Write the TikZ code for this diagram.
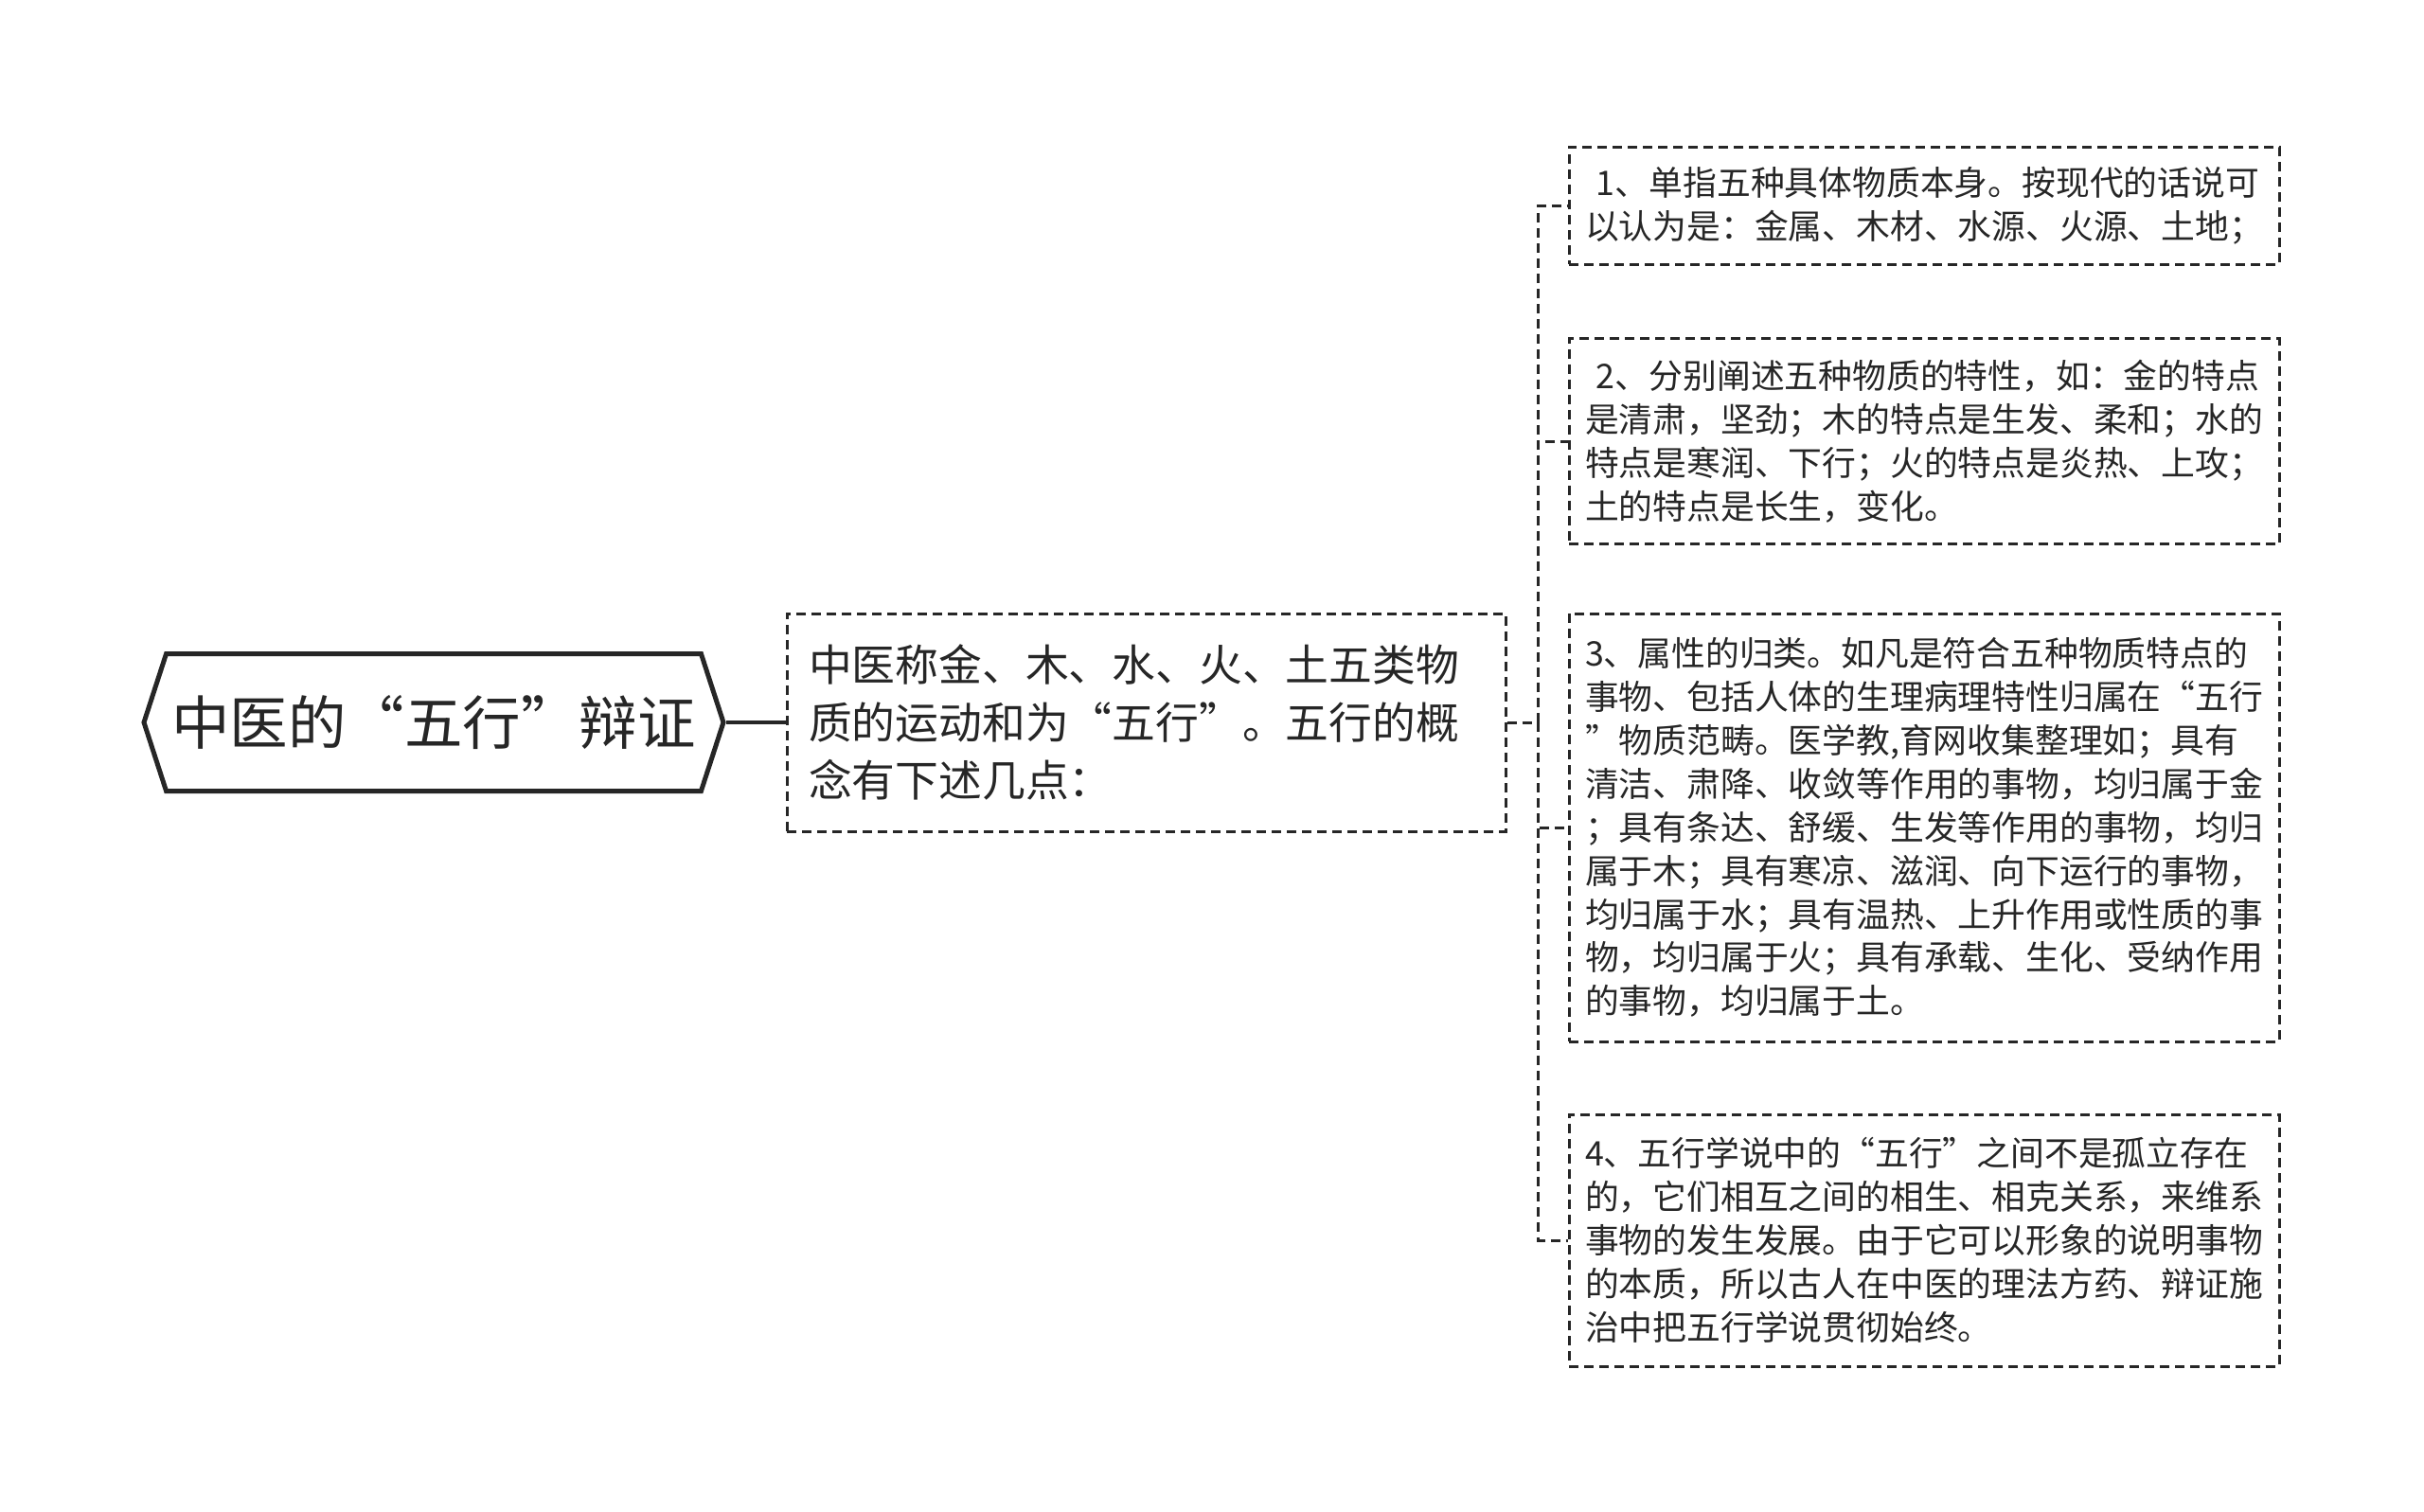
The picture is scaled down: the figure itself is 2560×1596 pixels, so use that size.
\documentclass[tikz,border=0pt]{standalone}
\usepackage{fontspec}
\setmainfont{Noto Sans CJK SC}
\usetikzlibrary{shapes.symbols}

\tikzset{
  rootbox/.style={draw=black!85, line width=5pt, shape=signal, signal to=west and east,
    signal pointer angle=144, minimum width=612pt, minimum height=145pt, inner sep=0pt,
    font=\fontsize{61.5}{72}\selectfont, text=black!85},
  topicbox/.style={draw=black!85, line width=3pt, dash pattern=on 10pt off 6pt,
    text width=713pt, inner xsep=23pt, minimum height=230pt, align=left,
    font=\fontsize{45.8}{61.2}\selectfont, text=black!85},
  leafbox/.style={draw=black!85, line width=3pt, dash pattern=on 10pt off 6pt,
    text width=716pt, inner xsep=17pt, align=left,
    font=\fontsize{35.8}{45.9}\selectfont, text=black!85},
  stem/.style={draw=black!85, line width=3.5pt},
  link/.style={draw=black!85, line width=3pt, dash pattern=on 10pt off 6pt}
}

\begin{document}
\begin{tikzpicture}[x=1pt,y=1pt,yscale=-1,xscale=1]
\useasboundingbox (0,0) rectangle (2560,1596);

% Root
\node[rootbox] (root) at (458,763) {中医的“五行”辩证};
% Topic
\node[topicbox] (topic) at (1210.5,763) {中医称金、木、水、火、土五类物\\质的运动和为“五行”。五行的概\\念有下述几点：};

% Leaves
\node[leafbox, minimum height=124pt] (one) at (2032,217) {~1、单指五种具体物质本身。按现代的话说可\\以认为是：金属、木材、水源、火源、土地；};
\node[leafbox, minimum height=217pt] (two) at (2032,466) {~2、分别阐述五种物质的特性，如：金的特点\\是清肃，坚劲；木的特点是生发、柔和；水的\\特点是寒润、下行；火的特点是炎热、上攻；\\土的特点是长生，变化。};
\node[leafbox, minimum height=452pt] (three) at (2032,874) {3、属性的归类。如凡是符合五种物质特点的\\事物、包括人体的生理病理特性归属在“五行\\”物质范畴。医学教,育网收集整理如；具有\\清洁、肃降、收敛等作用的事物，均归属于金\\；具有条达、舒缓、生发等作用的事物，均归\\属于木；具有寒凉、滋润、向下运行的事物，\\均归属于水；具有温热、上升作用或性质的事\\物，均归属于火；具有承载、生化、受纳作用\\的事物，均归属于土。};
\node[leafbox, minimum height=266pt] (four) at (2032,1310) {4、五行学说中的“五行”之间不是孤立存在\\的，它们相互之间的相生、相克关系，来维系\\事物的发生发展。由于它可以形象的说明事物\\的本质，所以古人在中医的理法方药、辩证施\\治中把五行学说贯彻始终。};

% Connectors
\draw[stem] (root.east) -- (topic.west);
\coordinate (hub) at (1624.5,763);
\draw[link] (topic.east) -- (hub);
\foreach \leaf in {one,two,three,four}
  \draw[link] (hub) |- (\leaf.west);

\end{tikzpicture}
\end{document}
